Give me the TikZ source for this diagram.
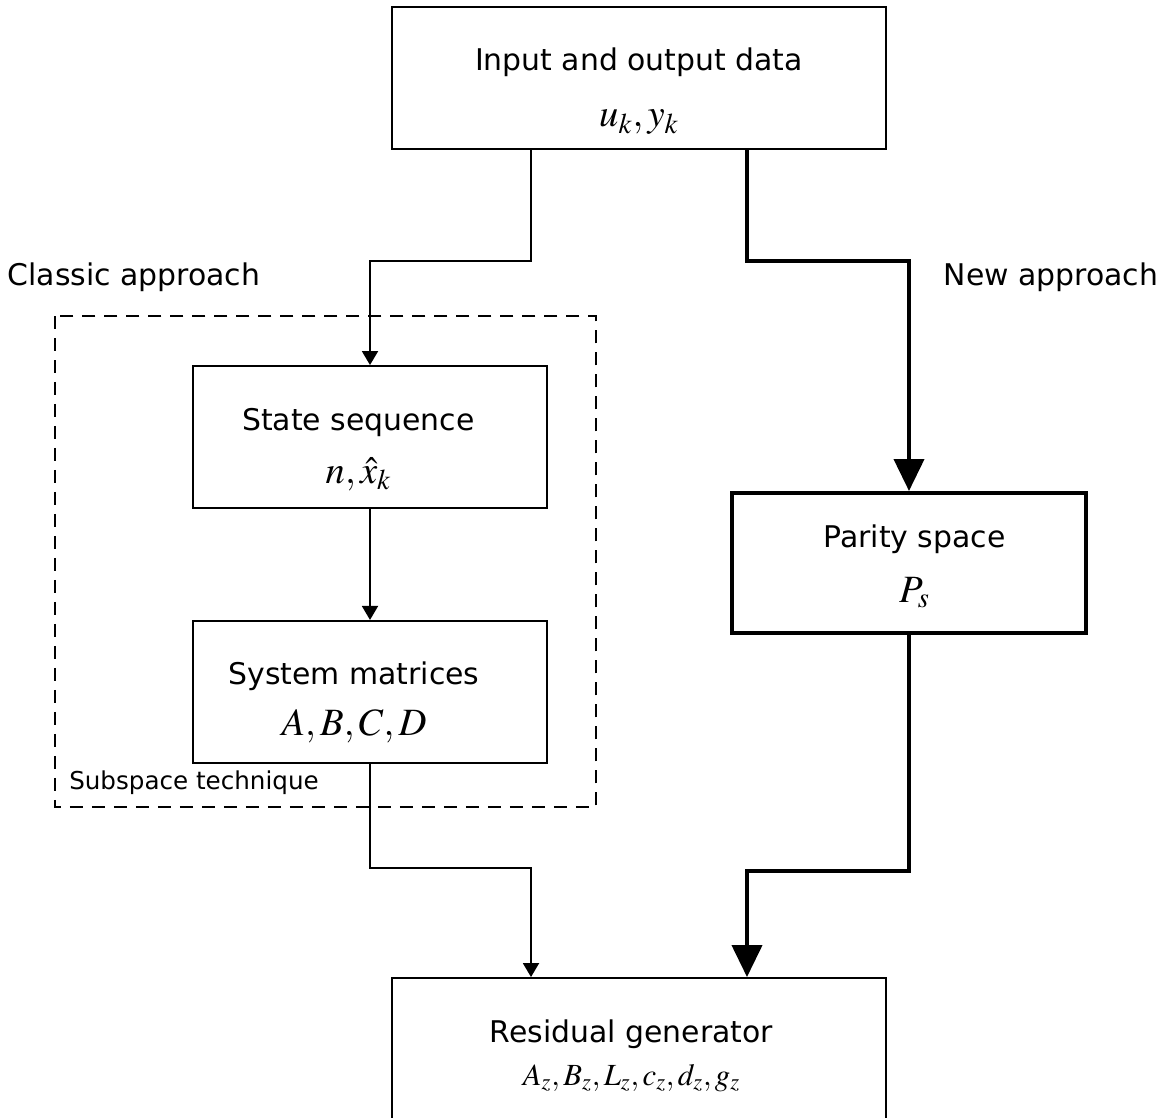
\documentclass[tikz,border=0pt]{standalone}
\usepackage{mathptmx}
\usepackage[no-math]{fontspec}
\setmainfont{DejaVu Sans}
\usetikzlibrary{arrows.meta,positioning}
\newcommand{\boxmath}[1]{{\fontsize{22}{24}\selectfont$#1$}}
\newcommand{\resmath}[1]{{\fontsize{17.5}{19}\selectfont$#1$}}
% two centred lines, first baseline is the box baseline, #1 = baseline gap
\newcommand{\boxtext}[3]{\vtop{\baselineskip=#1\lineskiplimit=-\maxdimen\lineskip=0pt\halign{\hfil##\hfil\cr#2\cr#3\cr}}}

\begin{document}
\begin{tikzpicture}[x=0.02cm,y=-0.02cm,every node/.style={font=\fontsize{17}{20}\selectfont},box/.style={draw,line width=1.1pt,inner sep=0pt,text height=0pt},thickbox/.style={draw,line width=2.3pt,inner sep=0pt,text height=0pt},arr/.style={-{Triangle[length=0.28cm,width=0.32cm]},line width=1.1pt},thickarr/.style={-{Triangle[length=0.64cm,width=0.6cm]},line width=2.3pt}]
\useasboundingbox (0,0) rectangle (1170,1117);
\node[box,minimum width=9.88cm,minimum height=2.84cm,text depth=0.32cm] (in) at (639,78) {\boxtext{1.14cm}{Input and output data}{\boxmath{u_k, y_k}}};
\node[box,minimum width=7.08cm,minimum height=2.84cm,text depth=0.28cm] (state) at (370,437) {\boxtext{1.06cm}{State sequence}{\boxmath{n, \hat{x}_k}}\kern0.46cm};
\node[box,minimum width=7.08cm,minimum height=2.84cm,text depth=0.3cm,below=2.22cm of state] (sysm) {\boxtext{1.02cm}{System matrices}{\boxmath{A, B, C, D}}\kern0.64cm};
\node[thickbox,minimum width=7.08cm,minimum height=2.8cm,text depth=0.64cm] (parity) at (909,563) {\kern0.22cm\boxtext{1.1cm}{Parity space}{\boxmath{P_s}}};
\node[box,minimum width=9.88cm,minimum height=2.84cm,text depth=0.28cm] (res) at (639,1049) {\boxtext{0.86cm}{Residual generator}{\resmath{A_z, B_z, L_z, c_z, d_z, g_z}}\kern0.3cm};
\node (classic) at (134,277) {Classic approach};
\node (new) at (1051,277) {New approach};
\draw[line width=1.1pt,dash pattern=on 0.26cm off 0.18cm] (55,316) rectangle (596,807);
\node[font=\fontsize{14}{16}\selectfont] (subsp) at (194,783) {Subspace technique};
% connectors
\coordinate (tl) at (531,261);
\coordinate (tr) at (747,261);
\coordinate (bl) at (531,868);
\coordinate (br) at (747,871);
\draw[arr] (in.south -| tl) -- (tl) -| (state.north);
\draw[thickarr] (in.south -| tr) -- (tr) -| (parity.north);
\draw[arr] (state) -- (sysm);
\draw[arr] (sysm.south) |- (bl) -- (res.north -| bl);
\draw[thickarr] (parity.south) |- (br) -- (res.north -| br);
\end{tikzpicture}
\end{document}
